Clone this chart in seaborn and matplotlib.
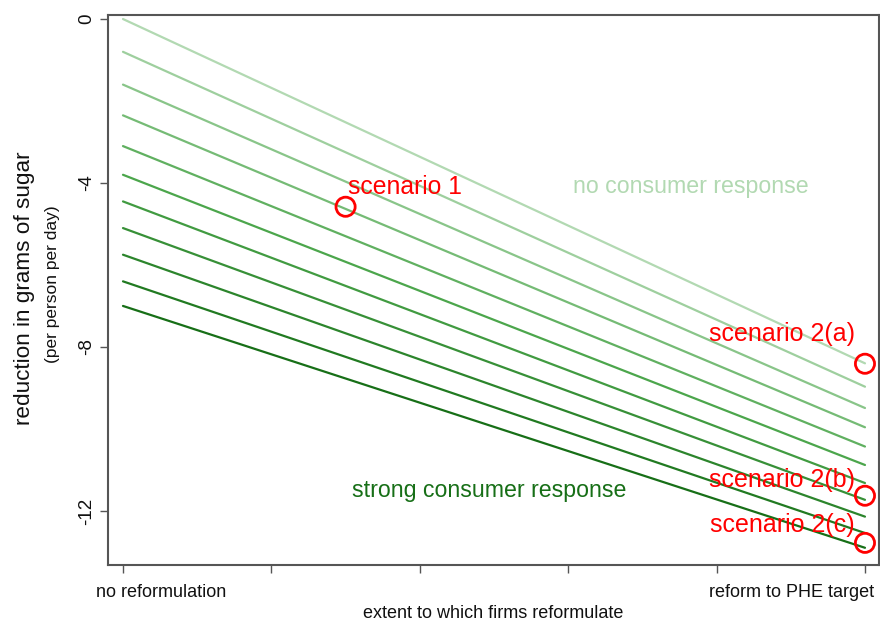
import matplotlib
matplotlib.use("Agg")
import matplotlib.pyplot as plt
import numpy as np
import pandas as pd
import seaborn as sns

# Reduction in sugar (g per person per day) at the two ends of the
# reformulation range, one path per strength of consumer response.
path_start = [0.0, -0.8, -1.6, -2.35, -3.1, -3.8, -4.45, -5.1, -5.75, -6.4, -7.0]
path_end = [-8.4, -8.97, -9.49, -9.96, -10.43, -10.88, -11.32, -11.73, -12.14, -12.54, -12.9]
reform_extent = [0.0, 1.0]

# Highlighted scenarios
scenario_x = [0.3, 1.0, 1.0, 1.0]
scenario_y = [-4.58, -8.41, -11.63, -12.78]

xtick_pos = [0.0, 0.2, 0.4, 0.6, 0.8, 1.0]
xend_labels = ["no reformulation", "reform to PHE target"]
xend_label_pos = [0.051, 0.901]
ytick_pos = [0, -4, -8, -12]
ytick_labels = ["0", "-4", "-8", "-12"]

rows = []
for i, (s, e) in enumerate(zip(path_start, path_end)):
    for xv, yv in zip(reform_extent, [s, e]):
        rows.append({"extent": xv, "reduction": yv, "path": i})
df = pd.DataFrame(rows)
scen = pd.DataFrame({"extent": scenario_x, "reduction": scenario_y})

sns.set_theme(style="white")
plt.rcParams["font.family"] = ["Liberation Sans", "DejaVu Sans"]
plt.rcParams["text.color"] = "#111111"
plt.rcParams["xtick.color"] = "#111111"
plt.rcParams["ytick.color"] = "#111111"
plt.rcParams["axes.labelcolor"] = "#111111"

W, H = 880, 627
fig = plt.figure(figsize=(W / 100, H / 100), dpi=100)
ax = fig.add_axes([108 / W, 1 - 565 / H, 771 / W, 550 / H])

light, dark = "#b2d9b2", "#176f17"
palette = sns.blend_palette([light, "#4ca64c", dark], len(path_start))

sns.lineplot(data=df, x="extent", y="reduction", hue="path", palette=palette,
             legend=False, linewidth=1.6, ax=ax)
sns.scatterplot(data=scen, x="extent", y="reduction", marker="o", s=190,
                facecolor="none", edgecolor="#ff0000", linewidth=2.0,
                zorder=5, clip_on=False, ax=ax)

ax.set_xlim(-0.0202, 1.0189)
ax.set_ylim(-13.32, 0.098)

ax.set_xticks(xtick_pos)
ax.set_xticklabels([""] * len(xtick_pos))
for xv, lab in zip(xend_label_pos, xend_labels):
    ax.text(xv, -0.035, lab, transform=ax.get_xaxis_transform(),
            ha="center", va="top", fontsize=13, color="#111111")
ax.set_yticks(ytick_pos)
ax.set_yticklabels(ytick_labels, fontsize=13.5, rotation=90, va="center")
ax.tick_params(axis="both", direction="out", length=6, width=1.0,
               bottom=True, left=True)
ax.tick_params(axis="x", color="#555555")
ax.tick_params(axis="y", pad=3.5, color="#555555")

for side, sp in ax.spines.items():
    sp.set_visible(True)
    sp.set_color("#555555")
    sp.set_linewidth(1.5)

ax.set_xlabel("extent to which firms reformulate", fontsize=13, labelpad=19.5)
ax.set_ylabel("")
fig.text(25 / W, 1 - 288 / H, "reduction in grams of sugar", rotation=90,
         ha="center", va="center", fontsize=16.2)
fig.text(52 / W, 1 - 284 / H, "(per person per day)", rotation=90,
         ha="center", va="center", fontsize=12.5)

red = "#ff0000"
ax.text(0.303, -4.27, "scenario 1", color=red, fontsize=17.8, va="baseline")
ax.text(0.6065, -4.25, "no consumer response", color=light, fontsize=16.7,
        va="baseline")
ax.text(0.494, -11.67, "strong consumer response", color=dark, fontsize=16.7,
        ha="center", va="baseline")
ax.text(0.986, -7.85, "scenario 2(a)", color=red, fontsize=18,
        ha="right", va="baseline")
ax.text(0.986, -11.41, "scenario 2(b)", color=red, fontsize=18,
        ha="right", va="baseline")
ax.text(0.986, -12.52, "scenario 2(c)", color=red, fontsize=18,
        ha="right", va="baseline")

fig.savefig("out.png", dpi=100)
